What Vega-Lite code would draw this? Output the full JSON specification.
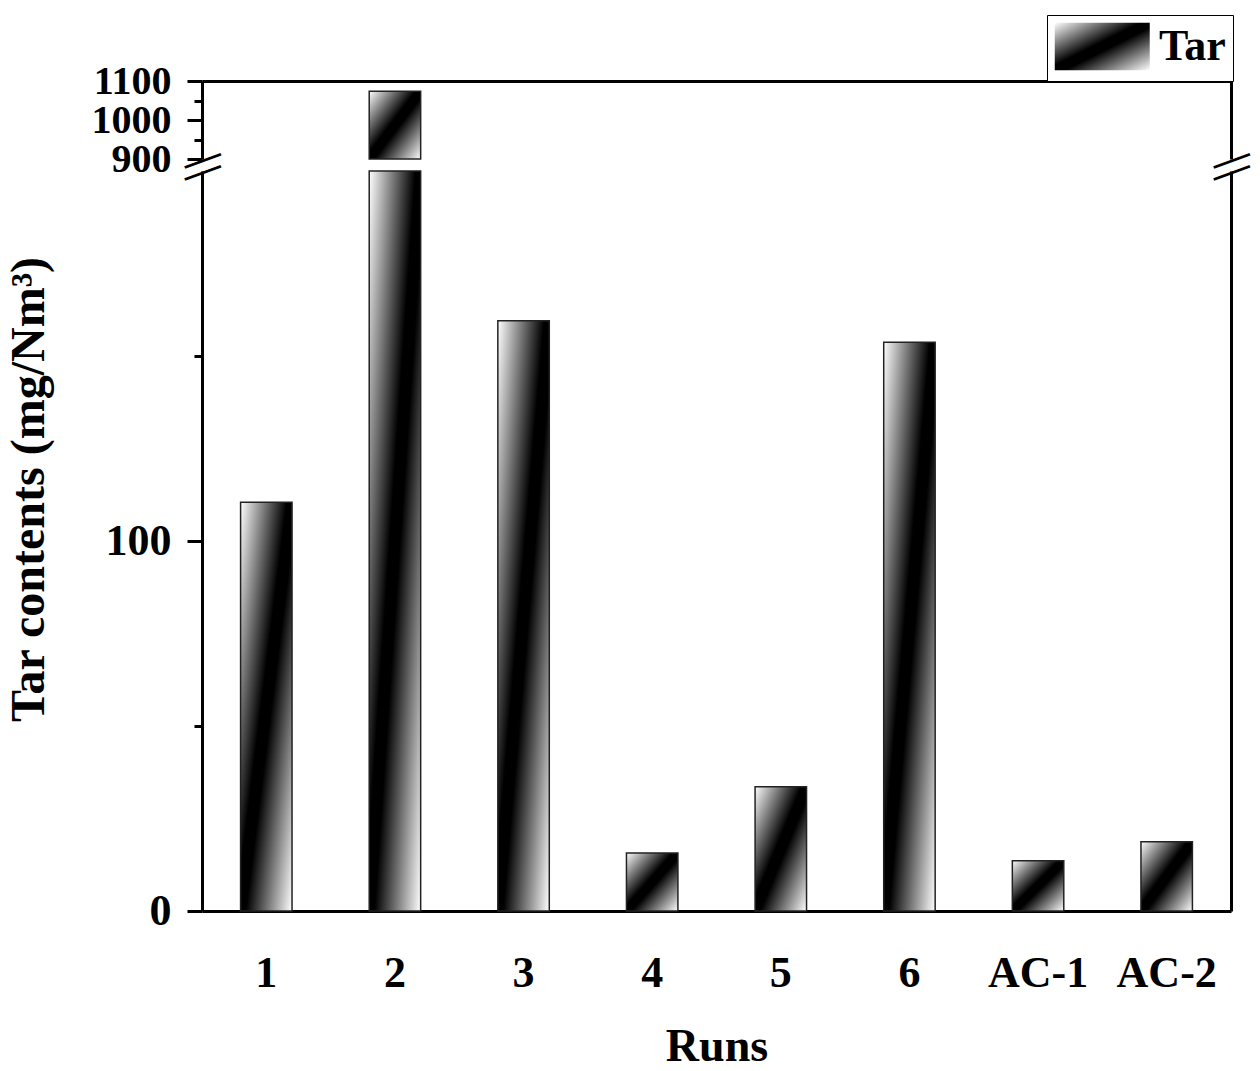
{
  "$schema": "https://vega.github.io/schema/vega-lite/v6.json",
  "background": "white",
  "padding": {"left": 5, "top": 14, "right": 20, "bottom": 5},
  "bounds": "flush",
  "config": {
    "view": {"stroke": null},
    "font": "Liberation Serif",
    "axis": {
      "grid": false,
      "domainColor": "black", "domainWidth": 3,
      "tickColor": "black", "tickWidth": 3,
      "labelFont": "Liberation Serif", "labelFontWeight": "bold", "labelFontSize": 44, "labelColor": "black",
      "labelOverlap": false,
      "titleFont": "Liberation Serif", "titleFontWeight": "bold", "titleFontSize": 46, "titleColor": "black"
    },
    "legend": {
      "orient": "none", "legendX": 845, "legendY": -66,
      "symbolType": "M-1,-1H3V1H-1Z", "symbolSize": 2256,
      "symbolStrokeColor": "black", "symbolStrokeWidth": 1.5,
      "labelFont": "Liberation Serif", "labelFontWeight": "bold", "labelFontSize": 44, "labelColor": "black",
      "labelOffset": 56, "labelLimit": 0,
      "strokeColor": "black", "fillColor": "white", "padding": 7
    }
  },
  "data": {
    "values": [
      {"run": "1", "tar": 110.5, "series": "Tar"},
      {"run": "2", "tar": 1074, "series": "Tar"},
      {"run": "3", "tar": 159.5, "series": "Tar"},
      {"run": "4", "tar": 15.7, "series": "Tar"},
      {"run": "5", "tar": 33.6, "series": "Tar"},
      {"run": "6", "tar": 153.7, "series": "Tar"},
      {"run": "AC-1", "tar": 13.6, "series": "Tar"},
      {"run": "AC-2", "tar": 18.7, "series": "Tar"}
    ]
  },
  "spacing": 12,
  "vconcat": [
    {
      "width": 1029,
      "height": 78,
      "layer": [
        {
          "transform": [{"filter": "datum.tar > 900"}],
          "mark": {"type": "bar", "stroke": "#222222", "strokeWidth": 1.5,
            "fill": {"gradient": "linear", "x1": 0, "y1": 0, "x2": 1, "y2": 1, "stops": [{"offset": 0, "color": "#ffffff"}, {"offset": 0.45, "color": "#000000"}, {"offset": 0.55, "color": "#000000"}, {"offset": 1, "color": "#ffffff"}]}},
          "encoding": {
            "x": {
              "field": "run", "type": "nominal", "sort": null,
              "scale": {"domain": ["1", "2", "3", "4", "5", "6", "AC-1", "AC-2"], "paddingInner": 0.6, "paddingOuter": 0.3},
              "axis": {"orient": "top", "labels": false, "ticks": false, "title": null}
            },
            "y": {
              "field": "tar", "type": "quantitative",
              "scale": {"domain": [900, 1100], "clamp": true, "nice": false, "zero": false},
              "axis": {"orient": "left", "values": [900, 1000, 1100], "format": "d", "tickSize": 15, "labelPadding": 16, "labelFontSize": 40, "title": null}
            },
            "opacity": {
              "field": "series", "type": "nominal",
              "scale": {"range": [1]},
              "legend": {"title": null, "encode": {
                "legend": {"update": {"strokeWidth": {"value": 2.5}}},
                "symbols": {"update": {"fill": {"value": {"gradient": "linear", "x1": 0, "y1": 0, "x2": 1, "y2": 1, "stops": [{"offset": 0, "color": "#ffffff"}, {"offset": 0.45, "color": "#000000"}, {"offset": 0.55, "color": "#000000"}, {"offset": 1, "color": "#ffffff"}]}}, "opacity": {"value": 1}, "fillOpacity": {"value": 1}}}
              }}
            }
          }
        },
        {
          "data": {"values": [{"mark": "break"}]},
          "mark": {"type": "text", "text": "—", "angle": -20, "fontSize": 38, "fontWeight": "bold", "color": "black", "baseline": "middle", "align": "center"},
          "encoding": {
            "x": {"value": 0},
            "y": {"datum": 900, "type": "quantitative", "axis": {"orient": "left", "values": [950, 1050], "tickSize": 8, "labels": false, "domain": false, "title": null}}
          }
        },
        {
          "data": {"values": [{"mark": "break"}]},
          "mark": {"type": "text", "text": "—", "angle": -20, "fontSize": 38, "fontWeight": "bold", "color": "black", "baseline": "middle", "align": "center"},
          "encoding": {
            "x": {"value": "width"},
            "y": {"datum": 900, "type": "quantitative", "axis": {"orient": "right", "ticks": false, "labels": false, "domain": true, "title": null}}
          }
        }
      ],
      "resolve": {"axis": {"y": "independent"}}
    },
    {
      "width": 1029,
      "height": 740,
      "layer": [
        {
          "mark": {"type": "bar", "stroke": "#222222", "strokeWidth": 1.5,
            "fill": {"gradient": "linear", "x1": 0, "y1": 0, "x2": 1, "y2": 1, "stops": [{"offset": 0, "color": "#ffffff"}, {"offset": 0.45, "color": "#000000"}, {"offset": 0.55, "color": "#000000"}, {"offset": 1, "color": "#ffffff"}]}},
          "encoding": {
            "x": {
              "field": "run", "type": "nominal", "sort": null,
              "scale": {"domain": ["1", "2", "3", "4", "5", "6", "AC-1", "AC-2"], "paddingInner": 0.6, "paddingOuter": 0.3},
              "axis": {"orient": "bottom", "labels": true, "ticks": false, "labelAngle": 0, "labelPadding": 40, "title": "Runs", "titlePadding": 29}
            },
            "y": {
              "field": "tar", "type": "quantitative",
              "scale": {"domain": [0, 200], "clamp": true, "nice": false},
              "axis": {"orient": "left", "values": [0, 100], "tickSize": 15, "labelPadding": 16, "title": "Tar contents (mg/Nm³)", "titleFontSize": 48, "titleY": 318, "titlePadding": 52}
            }
          }
        },
        {
          "data": {"values": [{"mark": "break"}]},
          "mark": {"type": "text", "text": "—", "angle": -20, "fontSize": 38, "fontWeight": "bold", "color": "black", "baseline": "middle", "align": "center"},
          "encoding": {
            "x": {"value": 0},
            "y": {"datum": 200, "type": "quantitative", "axis": {"orient": "left", "values": [50, 150], "tickSize": 8, "labels": false, "domain": false, "title": null}}
          }
        },
        {
          "data": {"values": [{"mark": "break"}]},
          "mark": {"type": "text", "text": "—", "angle": -20, "fontSize": 38, "fontWeight": "bold", "color": "black", "baseline": "middle", "align": "center"},
          "encoding": {
            "x": {"value": "width"},
            "y": {"datum": 200, "type": "quantitative", "axis": {"orient": "right", "ticks": false, "labels": false, "domain": true, "title": null}}
          }
        }
      ],
      "resolve": {"axis": {"y": "independent"}}
    }
  ]
}
